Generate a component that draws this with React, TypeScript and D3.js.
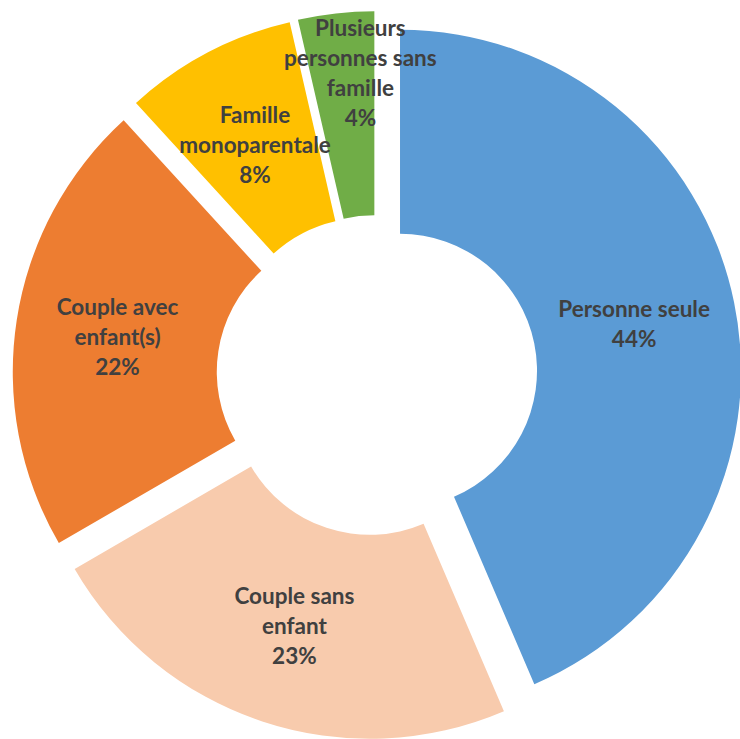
import React from 'react';
import * as d3 from 'd3';

const categories = [
  'Personne seule',
  'Couple sans enfant',
  'Couple avec enfant(s)',
  'Famille monoparentale',
  'Plusieurs personnes sans famille',
];
const labelLines = [
  ['Personne seule'],
  ['Couple sans', 'enfant'],
  ['Couple avec', 'enfant(s)'],
  ['Famille', 'monoparentale'],
  ['Plusieurs', 'personnes sans', 'famille'],
];
const shares = [43.6, 23.1, 21.6, 8.2, 3.6];
const colors = ['#5B9BD5', '#F8CBAD', '#ED7D31', '#FFC000', '#70AD47'];

const width = 740;
const height = 739;
const cx = 377;
const cy = 375.5;
const outerR = 341;
const innerR = 137;
const explode = 23.5;
const fontSize = 22.5;
const lineH = 30;

const App: React.FC = () => {
  const total = d3.sum(shares);
  const pct = d3.format('.0%');

  const pie = d3.pie<number>().sort(null).value(d => d);
  const arcs = pie(shares);
  const arc = d3.arc<d3.PieArcDatum<number>>().innerRadius(innerR).outerRadius(outerR);

  return (
    <svg
      width={width}
      height={height}
      style={{ position: 'absolute', left: 0, top: 0, background: '#fff' }}
      fontFamily="Lato, 'Noto Sans', sans-serif"
    >
      {arcs.map((a, i) => {
        const mid = (a.startAngle + a.endAngle) / 2;
        const tx = cx + explode * Math.sin(mid);
        const ty = cy - explode * Math.cos(mid);
        return (
          <g key={categories[i]} transform={`translate(${tx},${ty})`}>
            <path d={arc(a) as string} fill={colors[i]} />
          </g>
        );
      })}
      {arcs.map((a, i) => {
        const mid = (a.startAngle + a.endAngle) / 2;
        const tx = cx + explode * Math.sin(mid);
        const ty = cy - explode * Math.cos(mid);
        const [px, py] = arc.centroid(a);
        // the small slice's label sits above the ring in the original
        const nudge = i === arcs.length - 1 ? [13, -41.5] : [0, 1.5];
        const lines = [...labelLines[i], pct(shares[i] / total)];
        const x = tx + px + nudge[0];
        const y0 = ty + py + nudge[1] - ((lines.length - 1) * lineH) / 2;
        return (
          <text
            key={'l' + i}
            textAnchor="middle"
            fontSize={fontSize}
            fontWeight={700}
            fill="#404040"
          >
            {lines.map((t, j) => (
              <tspan key={j} x={x} y={y0 + j * lineH + fontSize * 0.36}>
                {t}
              </tspan>
            ))}
          </text>
        );
      })}
    </svg>
  );
};

export default App;
